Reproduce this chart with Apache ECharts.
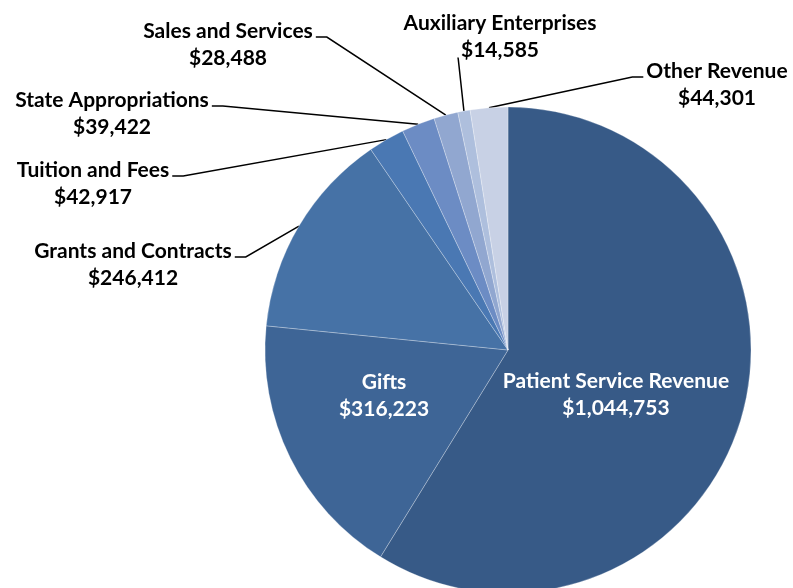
<!DOCTYPE html>
<html><head><meta charset="utf-8">
<script src="https://cdn.jsdelivr.net/npm/echarts@6/dist/echarts.min.js"></script>
<style>html,body{margin:0;padding:0;background:#fff}#c{width:793px;height:588px}</style>
</head><body><div id="c"></div>
<script>
const categories = ['Patient Service Revenue','Gifts','Grants and Contracts','Tuition and Fees','State Appropriations','Sales and Services','Auxiliary Enterprises','Other Revenue'];
const values = [1044753, 316223, 246412, 42917, 39422, 28488, 14585, 44301];
const colors = ['#375a87','#3e6596','#4672a6','#4a78b3','#6c8cc4','#91a7d0','#aebfdd','#c8d1e5'];

// label placement (layout only): block centres and where the guide line attaches
const labelSpots = [
  {x:616, y:395, inside:true},
  {x:384, y:396, inside:true},
  {x:133, y:264.5, attach:'right1'},
  {x:93,  y:183.5, attach:'right1'},
  {x:112, y:113.5, attach:'right1'},
  {x:228, y:44.5, attach:'right1'},
  {x:500, y:37, attach:'left2'},
  {x:717, y:84.5, attach:'left1'}
];

const FONT = 'Lato', FS = 21, LH = 27;
const money = v => '$' + v.toLocaleString('en-US');
const mctx = document.createElement('canvas').getContext('2d');
mctx.font = 'bold ' + FS + 'px ' + FONT;
const tw = s => mctx.measureText(s).width;

const data = categories.map((n, i) => {
  const d = {name: n, value: values[i], itemStyle: {color: colors[i]}};
  if (labelSpots[i].inside) {
    d.label = {position: 'inside', color: '#fff'};
    d.labelLine = {show: false};
  }
  return d;
});

const chart = echarts.init(document.getElementById('c'), null, {renderer: 'canvas'});
chart.setOption({
  animation: false,
  backgroundColor: '#fff',
  series: [{
    type: 'pie',
    center: [508, 350],
    radius: 243,
    startAngle: 90,
    clockwise: true,
    avoidLabelOverlap: false,
    emphasis: {disabled: true},
    itemStyle: {borderColor: 'rgba(255,255,255,0.45)', borderWidth: 0.6},
    label: {
      show: true,
      position: 'outside',
      color: '#000',
      fontFamily: FONT,
      fontSize: FS,
      fontWeight: 'bold',
      lineHeight: LH,
      align: 'center',
      formatter: p => p.name + '\n' + money(p.value)
    },
    labelLine: {show: true, length: 10, length2: 10, lineStyle: {color: '#000', width: 1.5}},
    labelLayout: function (params) {
      const i = params.dataIndex;
      const s = labelSpots[i];
      if (s.inside) return {x: s.x, y: s.y, align: 'center', verticalAlign: 'middle'};
      const out = {x: s.x, y: s.y, align: 'center', verticalAlign: 'middle'};
      const pts = params.labelLinePoints;
      if (pts && pts.length) {
        const a = pts[0];
        const l1 = tw(categories[i]), l2 = tw(money(values[i]));
        const y1 = s.y - LH / 2 + 6;
        let end, elbow;
        if (s.attach === 'right1') { end = [s.x + l1 / 2 + 3, y1]; elbow = [end[0] + 11, y1]; }
        else if (s.attach === 'left1') { end = [s.x - l1 / 2 - 3, y1]; elbow = [end[0] - 11, y1]; }
        else { end = [s.x - l2 / 2 - 3, s.y + LH / 2 + 7]; elbow = [end[0] + 0.3, end[1] + 2]; }
        out.labelLinePoints = [[a[0], a[1]], elbow, end];
      }
      return out;
    },
    data: data
  }]
});
</script>
</body></html>
